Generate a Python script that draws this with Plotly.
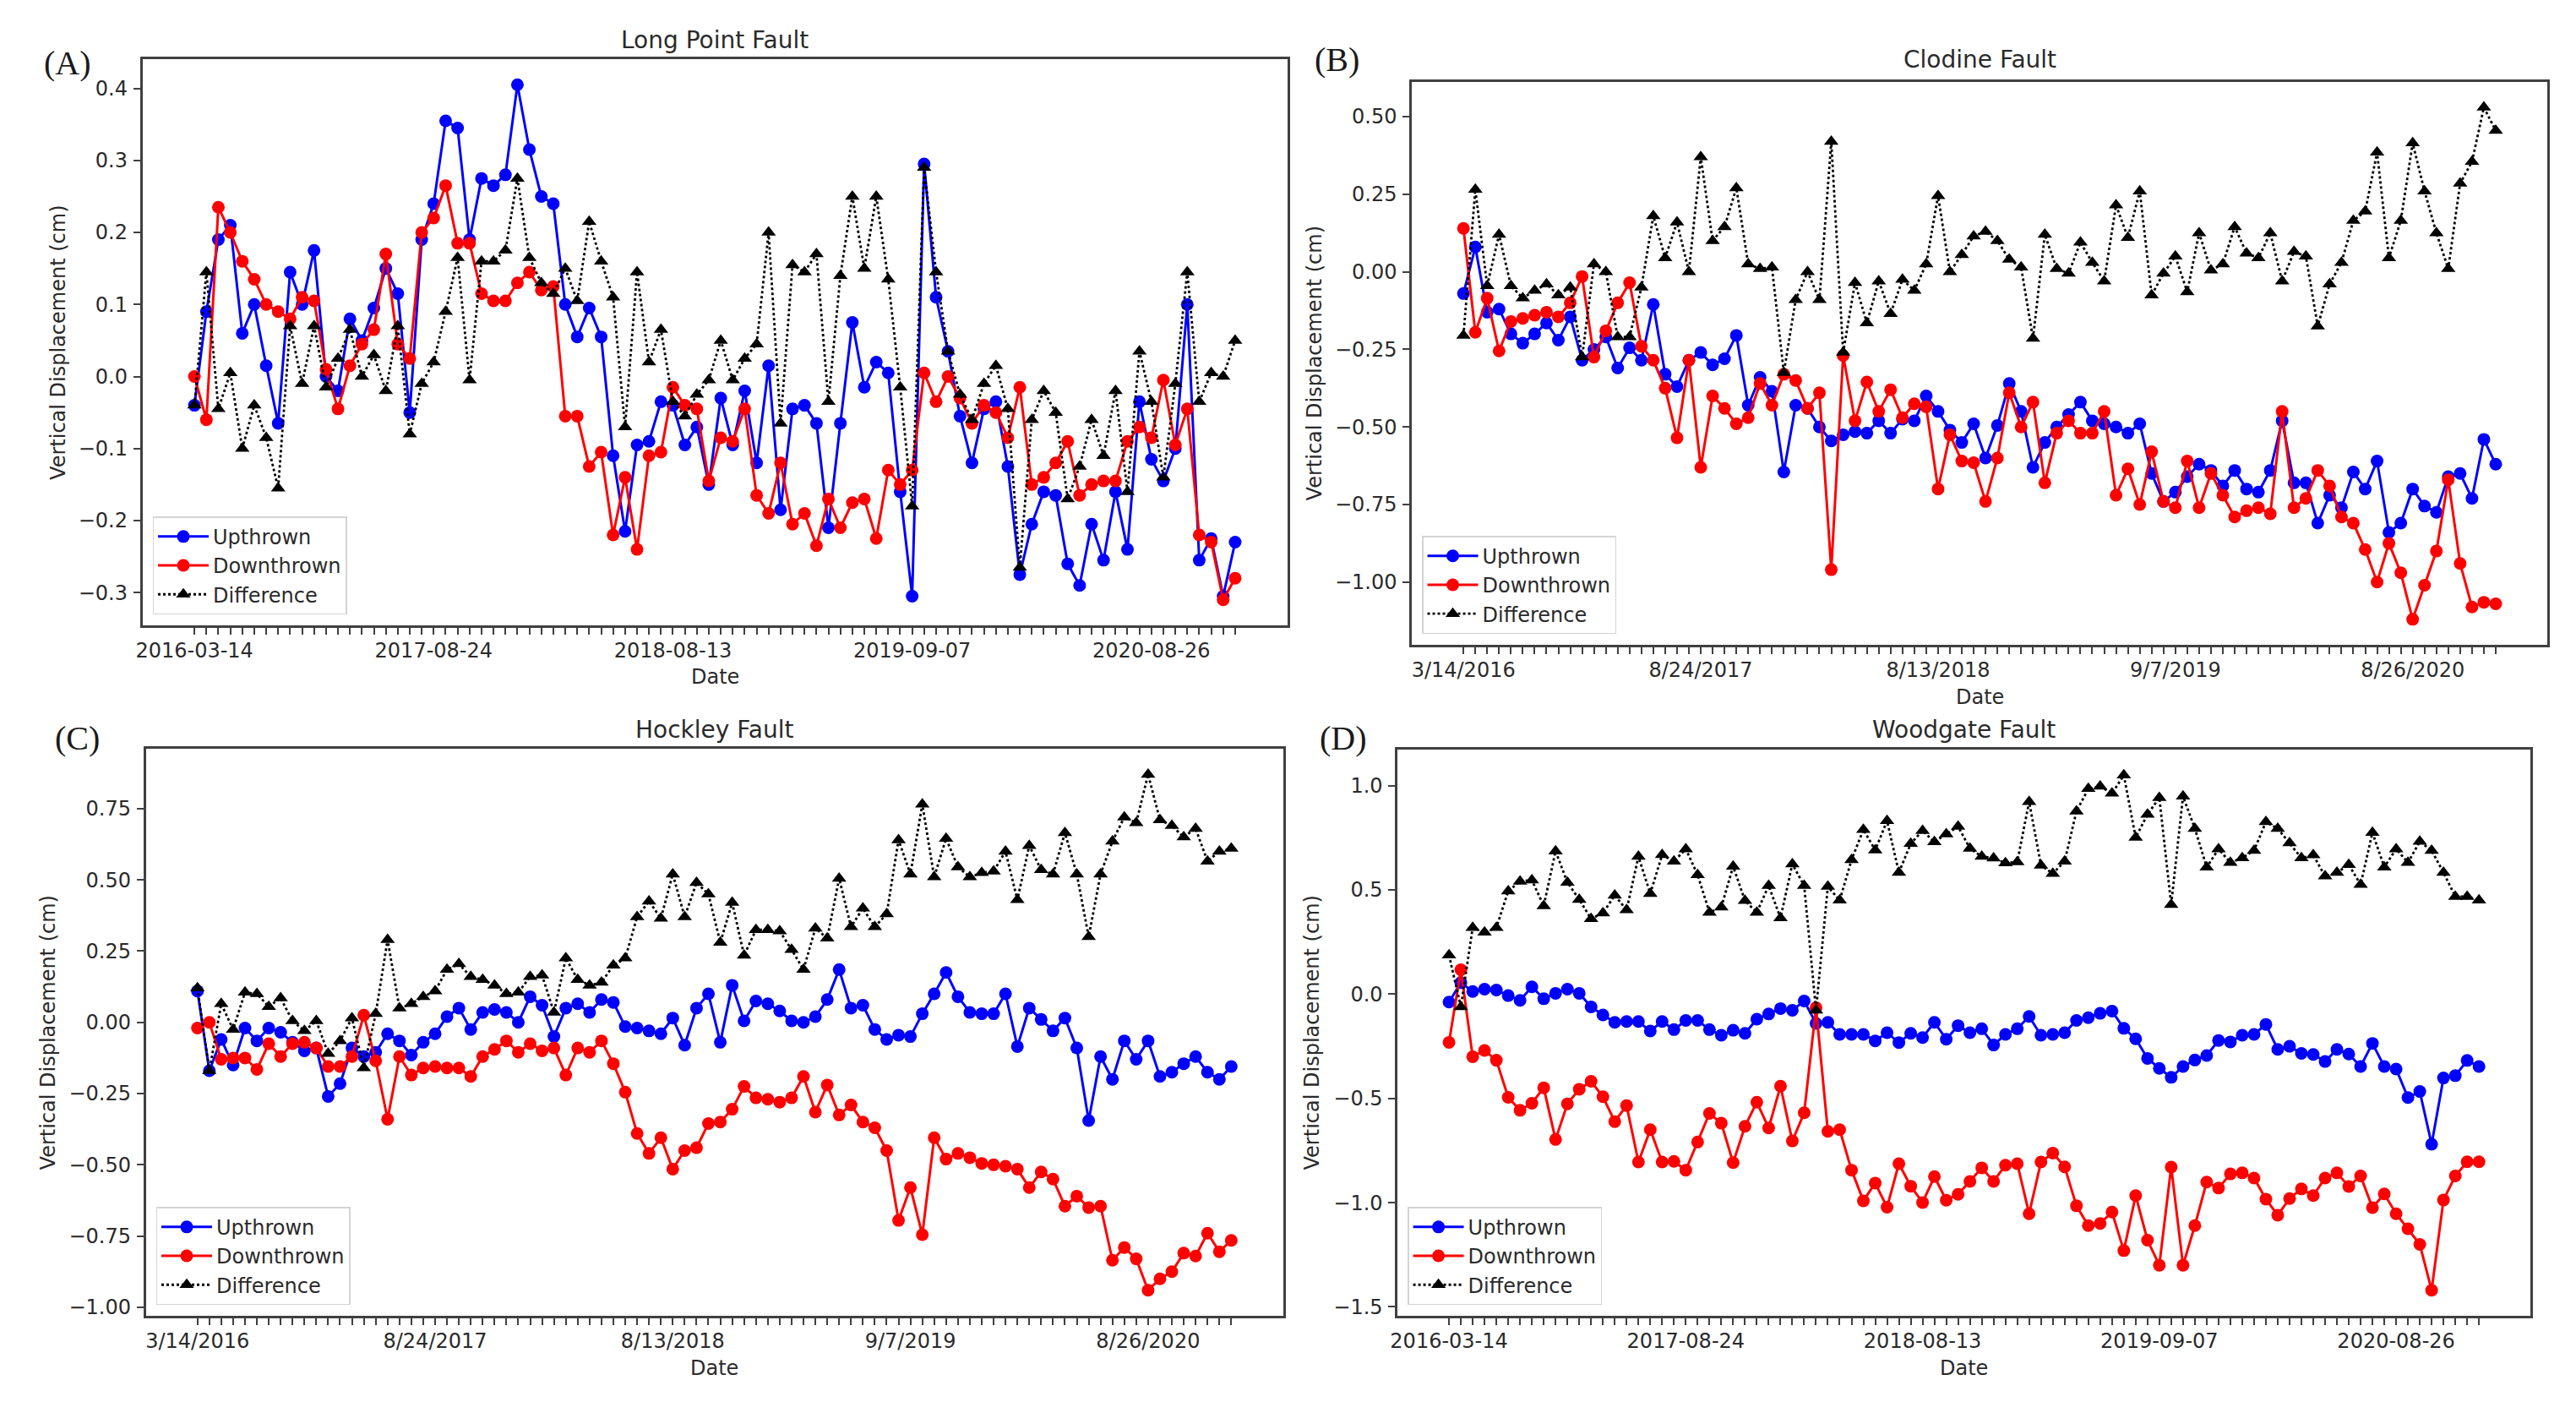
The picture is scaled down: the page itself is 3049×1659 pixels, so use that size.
import plotly.graph_objects as go

# ---------------- data ----------------
n_dates = 88
tick_index = [0, 20, 40, 60, 80]
tick_labels_iso = ["2016-03-14", "2017-08-24", "2018-08-13", "2019-09-07", "2020-08-26"]
tick_labels_us = ["3/14/2016", "8/24/2017", "8/13/2018", "9/7/2019", "8/26/2020"]
series_names = ["Upthrown", "Downthrown", "Difference"]

longpoint_up = [
    -0.04, 0.09, 0.19, 0.21, 0.06, 0.10, 0.015, -0.065, 0.145, 0.10,
    0.175, 0.0, -0.02, 0.08, 0.05, 0.095, 0.15, 0.115, -0.05, 0.19,
    0.24, 0.355, 0.345, 0.19, 0.275, 0.265, 0.28, 0.405, 0.315, 0.25,
    0.24, 0.10, 0.055, 0.095, 0.055, -0.11, -0.215, -0.095, -0.09, -0.035,
    -0.04, -0.095, -0.07, -0.15, -0.03, -0.095, -0.02, -0.12, 0.015, -0.185,
    -0.045, -0.04, -0.065, -0.21, -0.065, 0.075, -0.015, 0.02, 0.005, -0.16,
    -0.305, 0.295, 0.11, 0.035, -0.055, -0.12, -0.045, -0.035, -0.125, -0.275,
    -0.205, -0.16, -0.165, -0.26, -0.29, -0.205, -0.255, -0.16, -0.24, -0.035,
    -0.115, -0.145, -0.10, 0.10, -0.255, -0.225, -0.305, -0.23]
longpoint_down = [
    0.0, -0.06, 0.235, 0.20, 0.16, 0.135, 0.10, 0.09, 0.08, 0.11,
    0.105, 0.01, -0.045, 0.015, 0.045, 0.065, 0.17, 0.045, 0.025, 0.20,
    0.22, 0.265, 0.185, 0.185, 0.115, 0.105, 0.105, 0.13, 0.145, 0.12,
    0.125, -0.055, -0.055, -0.125, -0.105, -0.22, -0.14, -0.24, -0.11, -0.105,
    -0.015, -0.04, -0.045, -0.145, -0.085, -0.09, -0.045, -0.165, -0.19, -0.12,
    -0.205, -0.19, -0.235, -0.17, -0.21, -0.175, -0.17, -0.225, -0.13, -0.15,
    -0.13, 0.005, -0.035, 0.0, -0.03, -0.065, -0.04, -0.05, -0.085, -0.015,
    -0.15, -0.14, -0.12, -0.09, -0.165, -0.15, -0.145, -0.145, -0.09, -0.07,
    -0.085, -0.005, -0.095, -0.045, -0.22, -0.23, -0.31, -0.28]
longpoint_diff = [
    -0.04, 0.145, -0.045, 0.005, -0.10, -0.04, -0.085, -0.155, 0.07, -0.01,
    0.07, -0.015, 0.025, 0.065, 0.0, 0.03, -0.02, 0.07, -0.08, -0.01,
    0.02, 0.09, 0.165, -0.005, 0.16, 0.16, 0.175, 0.275, 0.165, 0.13,
    0.115, 0.15, 0.105, 0.215, 0.16, 0.11, -0.07, 0.145, 0.02, 0.065,
    -0.035, -0.055, -0.025, -0.005, 0.05, -0.005, 0.025, 0.045, 0.20, -0.065,
    0.155, 0.145, 0.17, -0.035, 0.14, 0.25, 0.15, 0.25, 0.135, -0.015,
    -0.18, 0.29, 0.145, 0.035, -0.025, -0.06, -0.01, 0.015, -0.045, -0.265,
    -0.06, -0.02, -0.05, -0.17, -0.125, -0.06, -0.11, -0.02, -0.16, 0.035,
    -0.035, -0.14, -0.01, 0.145, -0.035, 0.005, 0.0, 0.05]

clodine_up = [
    -0.07, 0.08, -0.13, -0.12, -0.20, -0.23, -0.20, -0.165, -0.22, -0.145,
    -0.285, -0.25, -0.21, -0.31, -0.245, -0.285, -0.105, -0.33, -0.37, -0.285,
    -0.26, -0.30, -0.28, -0.205, -0.43, -0.34, -0.385, -0.645, -0.43, -0.44,
    -0.50, -0.545, -0.525, -0.515, -0.52, -0.48, -0.52, -0.475, -0.48, -0.40,
    -0.45, -0.51, -0.55, -0.49, -0.60, -0.495, -0.36, -0.45, -0.63, -0.55,
    -0.50, -0.46, -0.42, -0.48, -0.49, -0.50, -0.52, -0.49, -0.65, -0.74,
    -0.71, -0.66, -0.62, -0.64, -0.69, -0.64, -0.70, -0.71, -0.64, -0.48,
    -0.68, -0.68, -0.81, -0.72, -0.76, -0.645, -0.70, -0.61, -0.84, -0.81,
    -0.70, -0.755, -0.775, -0.66, -0.65, -0.73, -0.54, -0.62]
clodine_down = [
    0.14, -0.195, -0.085, -0.255, -0.16, -0.15, -0.14, -0.13, -0.145, -0.10,
    -0.015, -0.275, -0.19, -0.10, -0.035, -0.24, -0.285, -0.375, -0.535, -0.285,
    -0.63, -0.40, -0.44, -0.49, -0.47, -0.36, -0.43, -0.33, -0.35, -0.44,
    -0.39, -0.96, -0.27, -0.48, -0.355, -0.45, -0.38, -0.47, -0.425, -0.435,
    -0.70, -0.525, -0.61, -0.615, -0.74, -0.60, -0.39, -0.50, -0.42, -0.68,
    -0.52, -0.48, -0.52, -0.52, -0.45, -0.72, -0.635, -0.75, -0.58, -0.74,
    -0.76, -0.61, -0.76, -0.65, -0.72, -0.79, -0.77, -0.76, -0.78, -0.45,
    -0.76, -0.73, -0.64, -0.69, -0.79, -0.81, -0.895, -1.00, -0.875, -0.97,
    -1.12, -1.01, -0.90, -0.67, -0.94, -1.08, -1.065, -1.07]
clodine_diff = [
    -0.205, 0.265, -0.045, 0.12, -0.045, -0.085, -0.06, -0.04, -0.075, -0.05,
    -0.275, 0.025, 0.0, -0.21, -0.21, -0.05, 0.18, 0.045, 0.16, 0.0,
    0.37, 0.10, 0.145, 0.27, 0.025, 0.01, 0.015, -0.325, -0.09, 0.0,
    -0.09, 0.42, -0.26, -0.035, -0.165, -0.03, -0.135, -0.025, -0.06, 0.025,
    0.245, 0.0, 0.055, 0.115, 0.13, 0.10, 0.04, 0.015, -0.215, 0.12,
    0.01, -0.005, 0.095, 0.03, -0.03, 0.215, 0.11, 0.26, -0.075, -0.005,
    0.05, -0.065, 0.125, 0.005, 0.025, 0.145, 0.06, 0.045, 0.125, -0.03,
    0.065, 0.05, -0.175, -0.04, 0.03, 0.165, 0.195, 0.385, 0.045, 0.165,
    0.415, 0.26, 0.125, 0.01, 0.285, 0.355, 0.53, 0.455]

hockley_up = [
    0.11, -0.17, -0.06, -0.15, -0.02, -0.065, -0.02, -0.035, -0.07, -0.10,
    -0.09, -0.26, -0.215, -0.09, -0.12, -0.105, -0.04, -0.065, -0.115, -0.07,
    -0.04, 0.02, 0.05, -0.025, 0.035, 0.045, 0.035, 0.0, 0.09, 0.06,
    -0.05, 0.05, 0.065, 0.035, 0.08, 0.07, -0.015, -0.02, -0.03, -0.04,
    0.015, -0.08, 0.05, 0.10, -0.07, 0.13, 0.005, 0.075, 0.065, 0.04,
    0.005, 0.0, 0.02, 0.08, 0.185, 0.05, 0.06, -0.025, -0.06, -0.045,
    -0.05, 0.03, 0.10, 0.175, 0.09, 0.035, 0.03, 0.03, 0.10, -0.085,
    0.05, 0.01, -0.03, 0.015, -0.09, -0.345, -0.12, -0.20, -0.065, -0.13,
    -0.065, -0.19, -0.175, -0.145, -0.12, -0.175, -0.20, -0.155]
hockley_down = [
    -0.02, 0.0, -0.13, -0.125, -0.125, -0.165, -0.075, -0.12, -0.075, -0.07,
    -0.09, -0.155, -0.155, -0.12, 0.025, -0.135, -0.34, -0.12, -0.185, -0.16,
    -0.155, -0.16, -0.16, -0.19, -0.12, -0.095, -0.065, -0.105, -0.075, -0.10,
    -0.09, -0.185, -0.09, -0.105, -0.065, -0.145, -0.245, -0.39, -0.46, -0.405,
    -0.515, -0.45, -0.44, -0.355, -0.35, -0.305, -0.225, -0.265, -0.27, -0.28,
    -0.265, -0.19, -0.315, -0.22, -0.325, -0.29, -0.35, -0.37, -0.45, -0.695,
    -0.58, -0.745, -0.405, -0.48, -0.46, -0.475, -0.495, -0.50, -0.505, -0.515,
    -0.58, -0.525, -0.55, -0.645, -0.61, -0.65, -0.645, -0.835, -0.79, -0.83,
    -0.94, -0.90, -0.875, -0.81, -0.82, -0.74, -0.805, -0.765]
hockley_diff = [
    0.12, -0.17, 0.065, -0.025, 0.105, 0.10, 0.055, 0.085, 0.005, -0.03,
    0.005, -0.11, -0.065, 0.015, -0.16, 0.03, 0.29, 0.05, 0.065, 0.09,
    0.11, 0.185, 0.205, 0.16, 0.15, 0.13, 0.10, 0.105, 0.16, 0.165,
    0.035, 0.225, 0.15, 0.13, 0.14, 0.20, 0.225, 0.37, 0.425, 0.365,
    0.52, 0.37, 0.49, 0.45, 0.28, 0.42, 0.235, 0.325, 0.325, 0.32,
    0.255, 0.185, 0.33, 0.295, 0.505, 0.335, 0.40, 0.335, 0.38, 0.64,
    0.52, 0.765, 0.51, 0.645, 0.545, 0.51, 0.525, 0.53, 0.60, 0.43,
    0.62, 0.535, 0.52, 0.665, 0.52, 0.30, 0.52, 0.635, 0.72, 0.70,
    0.87, 0.71, 0.69, 0.65, 0.68, 0.565, 0.60, 0.61]

woodgate_up = [
    -0.038, 0.055, 0.013, 0.024, 0.020, -0.007, -0.03, 0.035, -0.022, 0.004,
    0.024, 0.004, -0.061, -0.10, -0.135, -0.131, -0.131, -0.177, -0.131, -0.17,
    -0.126, -0.126, -0.17, -0.197, -0.173, -0.188, -0.12, -0.095, -0.069, -0.077,
    -0.033, -0.14, -0.135, -0.193, -0.193, -0.193, -0.224, -0.185, -0.232, -0.188,
    -0.208, -0.135, -0.216, -0.151, -0.185, -0.166, -0.244, -0.193, -0.166, -0.107,
    -0.197, -0.193, -0.185, -0.126, -0.113, -0.092, -0.081, -0.164, -0.214, -0.308,
    -0.356, -0.399, -0.347, -0.316, -0.294, -0.222, -0.229, -0.197, -0.193, -0.145,
    -0.265, -0.25, -0.284, -0.289, -0.323, -0.265, -0.287, -0.347, -0.236, -0.347,
    -0.359, -0.496, -0.467, -0.72, -0.402, -0.391, -0.318, -0.347]
woodgate_down = [
    -0.231, 0.117, -0.30, -0.27, -0.317, -0.495, -0.557, -0.523, -0.449, -0.697,
    -0.526, -0.456, -0.418, -0.492, -0.611, -0.534, -0.805, -0.65, -0.805, -0.802,
    -0.844, -0.709, -0.572, -0.619, -0.808, -0.634, -0.518, -0.642, -0.441, -0.704,
    -0.569, -0.065, -0.658, -0.65, -0.844, -0.991, -0.906, -1.022, -0.813, -0.921,
    -0.999, -0.875, -0.988, -0.96, -0.898, -0.833, -0.898, -0.82, -0.813, -1.053,
    -0.805, -0.762, -0.828, -1.015, -1.11, -1.10, -1.045, -1.23, -0.966, -1.18,
    -1.30, -0.829, -1.30, -1.11, -0.901, -0.93, -0.862, -0.857, -0.882, -0.983,
    -1.06, -0.98, -0.934, -0.966, -0.882, -0.857, -0.922, -0.872, -1.024, -0.958,
    -1.053, -1.125, -1.20, -1.42, -0.987, -0.872, -0.804, -0.804]
woodgate_diff = [
    0.187, -0.061, 0.319, 0.296, 0.319, 0.494, 0.541, 0.547, 0.423, 0.686,
    0.536, 0.454, 0.361, 0.389, 0.474, 0.404, 0.66, 0.482, 0.668, 0.637,
    0.696, 0.572, 0.392, 0.417, 0.613, 0.448, 0.392, 0.52, 0.365, 0.624,
    0.52, -0.077, 0.516, 0.45, 0.644, 0.789, 0.691, 0.831, 0.583, 0.722,
    0.784, 0.73, 0.768, 0.804, 0.699, 0.66, 0.652, 0.629, 0.634, 0.923,
    0.618, 0.578, 0.637, 0.877, 0.985, 0.997, 0.963, 1.05, 0.751, 0.862,
    0.942, 0.429, 0.949, 0.794, 0.609, 0.696, 0.631, 0.653, 0.689, 0.826,
    0.794, 0.725, 0.653, 0.667, 0.566, 0.583, 0.621, 0.525, 0.775, 0.609,
    0.696, 0.631, 0.732, 0.689, 0.583, 0.468, 0.468, 0.45]

# ---------------- layout helpers ----------------
W, H = 3033, 1643      # figure size (page body has an 8px margin)
OFF = 8
TXT = "#2a2a2a"
AXC = "#404040"
FONT = "DejaVu Sans"
SMALL = 24


def fx(p):
    return (p - OFF) / W


def fy(p):
    return 1 - (p - OFF) / H


panels = [
    dict(tag="(A)", title="Long Point Fault", up=longpoint_up, down=longpoint_down, diff=longpoint_diff,
         labels=tick_labels_iso, dtick=0.1, fmt=".1f",
         box=(160, 1519, 70, 742), title_y=48, tag_xy=(71, 75), ylab_x=60, xlab_y=803),
    dict(tag="(B)", title="Clodine Fault", up=clodine_up, down=clodine_down, diff=clodine_diff,
         labels=tick_labels_us, dtick=0.25, fmt=".2f",
         box=(1667, 3015, 97, 765), title_y=71, tag_xy=(1578, 71), ylab_x=1552, xlab_y=827),
    dict(tag="(C)", title="Hockley Fault", up=hockley_up, down=hockley_down, diff=hockley_diff,
         labels=tick_labels_us, dtick=0.25, fmt=".2f",
         box=(164, 1514, 888, 1561), title_y=866, tag_xy=(83, 876), ylab_x=48, xlab_y=1623),
    dict(tag="(D)", title="Woodgate Fault", up=woodgate_up, down=woodgate_down, diff=woodgate_diff,
         labels=tick_labels_iso, dtick=0.5, fmt=".1f",
         box=(1650, 2995, 889, 1561), title_y=866, tag_xy=(1586, 876), ylab_x=1549, xlab_y=1623),
]

fig = go.Figure()
annotations = []
layout = {}
x_idx = list(range(n_dates))

for k, p in enumerate(panels):
    sfx = "" if k == 0 else str(k + 1)
    xa, ya = "x" + sfx, "y" + sfx
    leg = "legend" + sfx
    styles = [
        dict(line=dict(color="blue", width=3), marker=dict(symbol="circle", size=15, color="blue")),
        dict(line=dict(color="red", width=3), marker=dict(symbol="circle", size=15, color="red")),
        dict(line=dict(color="black", width=2.8, dash="dot"),
             marker=dict(symbol="triangle-up", size=15, color="black")),
    ]
    for name, vals, st in zip(series_names, [p["up"], p["down"], p["diff"]], styles):
        fig.add_trace(go.Scatter(x=x_idx, y=vals, name=name, mode="lines+markers",
                                 xaxis=xa, yaxis=ya, legend=leg, legendgroup=f"{k}-{name}",
                                 line=st["line"], marker=st["marker"]))
    allv = p["up"] + p["down"] + p["diff"]
    lo, hi = min(allv), max(allv)
    pad = 0.05 * (hi - lo)
    xpad = 0.05 * (n_dates - 1)
    l, r, t, b = p["box"]
    ticktext = []
    for i in x_idx:
        ticktext.append(p["labels"][tick_index.index(i)] if i in tick_index else "")
    layout["xaxis" + sfx] = dict(
        domain=[fx(l), fx(r)], range=[-xpad, n_dates - 1 + xpad], anchor=ya,
        tickmode="array", tickvals=x_idx, ticktext=ticktext,
        ticks="outside", ticklen=8, tickwidth=1.8, tickcolor=AXC,
        showline=True, mirror=True, linecolor=AXC, linewidth=2.5,
        showgrid=False, zeroline=False, ticklabelstandoff=-2,
        tickfont=dict(family=FONT, size=SMALL, color=TXT))
    layout["yaxis" + sfx] = dict(
        domain=[fy(b), fy(t)], range=[lo - pad, hi + pad], anchor=xa,
        tick0=0, dtick=p["dtick"], tickformat=p["fmt"],
        ticks="outside", ticklen=8, tickwidth=1.8, tickcolor=AXC,
        showline=True, mirror=True, linecolor=AXC, linewidth=2.5,
        showgrid=False, zeroline=False, ticklabelstandoff=2,
        tickfont=dict(family=FONT, size=SMALL, color=TXT))
    layout[leg] = dict(
        x=fx(l + 12), y=fy(b - 13), xanchor="left", yanchor="bottom",
        bgcolor="rgba(255,255,255,0.85)", bordercolor="#d4d4d4", borderwidth=1.5,
        font=dict(family=FONT, size=SMALL, color=TXT), itemwidth=60, tracegroupgap=5,
        traceorder="normal")
    cx = (l + r) / 2
    annotations += [
        dict(text=p["title"], x=fx(cx), y=fy(p["title_y"]), xref="paper", yref="paper",
             xanchor="center", yanchor="middle", showarrow=False,
             font=dict(family=FONT, size=28, color=TXT)),
        dict(text=p["tag"], x=fx(p["tag_xy"][0]), y=fy(p["tag_xy"][1]), xref="paper", yref="paper",
             xanchor="center", yanchor="middle", showarrow=False,
             font=dict(family="Liberation Serif", size=40, color="#1a1a1a")),
        dict(text="Vertical Displacement (cm)", x=fx(p["ylab_x"]), y=fy((t + b) / 2),
             xref="paper", yref="paper", xanchor="center", yanchor="middle", textangle=-90,
             showarrow=False, font=dict(family=FONT, size=SMALL, color=TXT)),
        dict(text="Date", x=fx(cx), y=fy(p["xlab_y"]), xref="paper", yref="paper",
             xanchor="center", yanchor="middle", showarrow=False,
             font=dict(family=FONT, size=SMALL, color=TXT)),
    ]

fig.update_layout(
    width=W, height=H, margin=dict(l=0, r=0, t=0, b=0),
    paper_bgcolor="white", plot_bgcolor="white",
    showlegend=True, annotations=annotations, **layout)

fig.write_html("out.html")
